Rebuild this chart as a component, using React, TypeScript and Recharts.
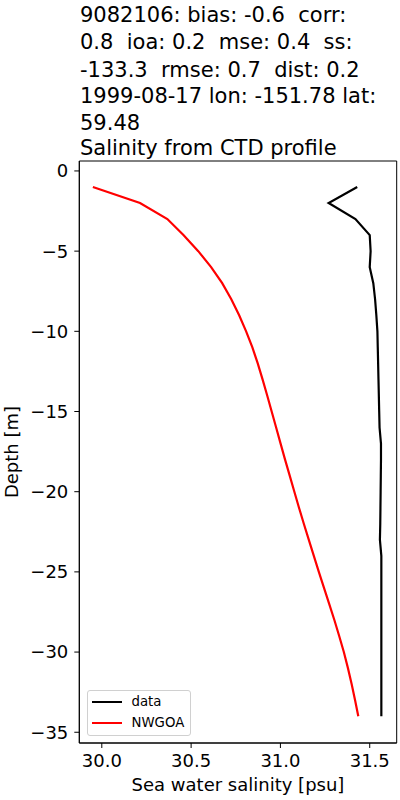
import React from 'react';
import { ScatterChart, Scatter, XAxis, YAxis, ReferenceArea } from 'recharts';

// depth levels [m] and salinity [psu] per level
const depths = [
  -1, -2, -3, -4, -5, -6, -7, -8, -9, -10, -11, -12, -13, -14, -15, -16, -17,
  -18, -19, -20, -21, -22, -23, -24, -25, -26, -27, -28, -29, -30, -31, -32, -33, -34,
];
const observed = [
  31.43, 31.27, 31.42, 31.5, 31.505, 31.5, 31.52, 31.53, 31.537, 31.543, 31.545, 31.547,
  31.549, 31.551, 31.553, 31.555, 31.563, 31.563, 31.562, 31.561, 31.56, 31.559, 31.557,
  31.565, 31.565, 31.565, 31.565, 31.565, 31.565, 31.565, 31.565, 31.565, 31.565, 31.565,
];
const model = [
  29.95, 30.214, 30.367, 30.457, 30.54, 30.612, 30.674, 30.725, 30.769, 30.808, 30.843,
  30.873, 30.9, 30.926, 30.951, 30.976, 31.001, 31.026, 31.052, 31.078, 31.104, 31.131,
  31.159, 31.187, 31.215, 31.244, 31.273, 31.302, 31.329, 31.355, 31.378, 31.399, 31.418,
  31.436,
];
const xTicks = [30.0, 30.5, 31.0, 31.5];
const yTicks = [0, -5, -10, -15, -20, -25, -30, -35];
const titleLines = [
  '9082106: bias: -0.6  corr:',
  '0.8  ioa: 0.2  mse: 0.4  ss:',
  '-133.3  rmse: 0.7  dist: 0.2',
  '1999-08-17 lon: -151.78 lat:',
  '59.48',
  'Salinity from CTD profile',
];

const X_DOMAIN: [number, number] = [29.874, 31.651];
const Y_DOMAIN: [number, number] = [-35.67, 0.62];
const FONT = '"DejaVu Sans", sans-serif';

const dataSeries = depths.map((d, i) => ({ x: observed[i], y: d }));
const modelSeries = depths.map((d, i) => ({ x: model[i], y: d }));

const noDot = () => <g />;

export default function App() {
  const titleBaselines = [21.7, 49, 76.5, 103.3, 130, 155];
  return (
    <div style={{ position: 'absolute', left: 0, top: 0, width: 400, height: 800, background: '#fff', fontFamily: FONT }}>
      <svg width={400} height={160} style={{ position: 'absolute', left: 0, top: 0 }}>
        {titleLines.map((t, i) => (
          <text key={i} x={80} y={titleBaselines[i]} fontSize={21} fontFamily={FONT} fill="#000" style={{ whiteSpace: 'pre' }}>
            {t}
          </text>
        ))}
      </svg>
      <div style={{ position: 'absolute', left: 0, top: 0 }}>
        <ScatterChart width={400} height={800} margin={{ top: 161, right: 3.3, bottom: 17, left: 19.3 }}>
          <XAxis
            type="number"
            dataKey="x"
            domain={X_DOMAIN}
            ticks={xTicks}
            tickFormatter={(v: number) => v.toFixed(1)}
            height={40}
            tickSize={5}
            tickMargin={6}
            stroke="#000"
            tick={{ fill: '#000', fontSize: 18, fontFamily: FONT }}
            allowDataOverflow
          />
          <YAxis
            type="number"
            dataKey="y"
            domain={Y_DOMAIN}
            ticks={yTicks}
            tickFormatter={(v: number) => (v < 0 ? `\u2212${Math.abs(v)}` : `${v}`)}
            width={60}
            tickSize={5}
            tickMargin={6}
            stroke="#000"
            tick={{ fill: '#000', fontSize: 18, fontFamily: FONT }}
            allowDataOverflow
          />
          <ReferenceArea
            x1={X_DOMAIN[0]}
            x2={X_DOMAIN[1]}
            y1={Y_DOMAIN[0]}
            y2={Y_DOMAIN[1]}
            fill="none"
            stroke="#000"
            strokeWidth={1}
          />
          <Scatter
            data={dataSeries}
            line={{ stroke: '#000', strokeWidth: 2.2 }}
            lineJointType="linear"
            shape={noDot}
            isAnimationActive={false}
          />
          <Scatter
            data={modelSeries}
            line={{ stroke: '#ff0000', strokeWidth: 2.2 }}
            lineJointType="linear"
            shape={noDot}
            isAnimationActive={false}
          />
        </ScatterChart>
      </div>
      {/* axis labels */}
      <div
        style={{
          position: 'absolute', left: 79, width: 318, top: 774, textAlign: 'center',
          fontSize: 18, lineHeight: '22px', color: '#000',
        }}
      >
        Sea water salinity [psu]
      </div>
      <div
        style={{
          position: 'absolute', left: 12, top: 452, fontSize: 18, lineHeight: '22px', color: '#000',
          whiteSpace: 'nowrap', transform: 'translate(-50%, -50%) rotate(-90deg)',
        }}
      >
        Depth [m]
      </div>
      {/* legend */}
      <div
        style={{
          position: 'absolute', left: 86.5, top: 690, width: 104, height: 46, boxSizing: 'border-box',
          border: '1px solid #d0d0d0', borderRadius: 3, background: 'rgba(255,255,255,0.8)',
          fontSize: 13.3, color: '#000',
        }}
      >
        {[
          { name: 'data', color: '#000' },
          { name: 'NWGOA', color: '#ff0000' },
        ].map((item, i) => (
          <div key={item.name} style={{ position: 'absolute', left: 4, top: 3 + i * 21, height: 16, display: 'flex', alignItems: 'center' }}>
            <span style={{ display: 'inline-block', width: 30, height: 2.5, background: item.color }} />
            <span style={{ marginLeft: 10, lineHeight: '16px' }}>{item.name}</span>
          </div>
        ))}
      </div>
    </div>
  );
}
